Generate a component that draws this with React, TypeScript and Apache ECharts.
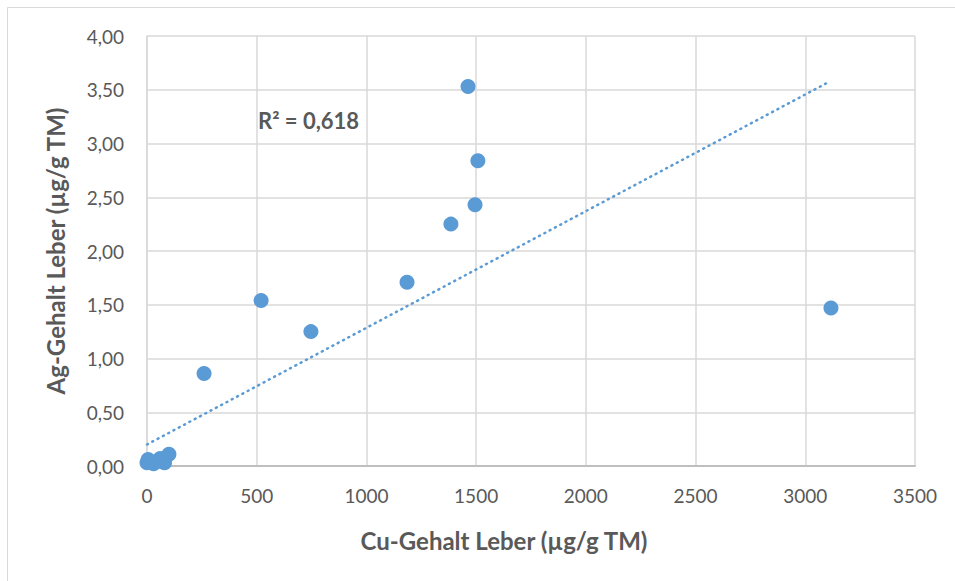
import React, { useEffect, useRef } from "react";
import * as echarts from "echarts";

const cuValues = [1463, 1508, 1495, 1385, 1185, 520, 747, 260, 3117, 0, 5, 30, 50, 70, 60, 100, 80];
const agValues = [3.53, 2.84, 2.43, 2.25, 1.71, 1.54, 1.25, 0.86, 1.47, 0.03, 0.06, 0.02, 0.05, 0.04, 0.07, 0.11, 0.03];
const trendX = [0, 3105];
const trendY = [0.2, 3.57];
const xTicks = [0, 500, 1000, 1500, 2000, 2500, 3000, 3500];
const yTicks = [0, 0.5, 1, 1.5, 2, 2.5, 3, 3.5, 4];
const r2Label = "R² = 0,618";
const xName = "Cu-Gehalt Leber (µg/g TM)";
const yName = "Ag-Gehalt Leber (µg/g TM)";

const FONT = "Lato, 'Open Sans', sans-serif";
const TEXT = "#595959";
const BLUE = "#5B9BD5";

export default function App() {
  const ref = useRef<HTMLDivElement>(null);
  useEffect(() => {
    if (!ref.current) return;
    const chart = echarts.init(ref.current, undefined, { renderer: "svg" });
    const points = cuValues.map((x, i) => [x, agValues[i]]);
    const trend = trendX.map((x, i) => [x, trendY[i]]);
    chart.setOption({
      animation: false,
      textStyle: { fontFamily: FONT },
      grid: { left: 147, right: 40, top: 36, bottom: 115 },
      graphic: [
        {
          type: "rect",
          shape: { x: 7.5, y: 7.5, width: 1000, height: 700 },
          style: { fill: "none", stroke: "#D9D9D9", lineWidth: 1 },
          silent: true,
        },
        {
          type: "text",
          left: 258,
          top: 109,
          style: { text: r2Label, fill: TEXT, font: `bold 22px ${FONT}` },
        },
      ],
      xAxis: {
        type: "value",
        min: xTicks[0],
        max: xTicks[xTicks.length - 1],
        interval: 500,
        name: xName,
        nameLocation: "middle",
        nameGap: 62,
        nameTextStyle: {
          color: TEXT,
          fontSize: 24,
          fontWeight: "bold",
          fontFamily: FONT,
          padding: [0, 54, 0, 0],
        },
        axisLine: { show: true, lineStyle: { color: "#BFBFBF", width: 2 } },
        axisTick: { show: false },
        axisLabel: {
          color: TEXT,
          fontSize: 19,
          margin: 20,
          fontFamily: FONT,
          formatter: (v: number) => String(v),
        },
        splitLine: { show: true, lineStyle: { color: "#D9D9D9", width: 1.5 } },
      },
      yAxis: {
        type: "value",
        min: yTicks[0],
        max: yTicks[yTicks.length - 1],
        interval: 0.5,
        name: yName,
        nameLocation: "middle",
        nameGap: 80,
        nameTextStyle: { color: TEXT, fontSize: 24, fontWeight: "bold", fontFamily: FONT },
        axisLine: { show: true, lineStyle: { color: "#D9D9D9", width: 1.5 } },
        axisTick: { show: false },
        axisLabel: {
          color: TEXT,
          fontSize: 19,
          margin: 23,
          fontFamily: FONT,
          formatter: (v: number) => v.toFixed(2).replace(".", ","),
        },
        splitLine: { show: true, lineStyle: { color: "#D9D9D9", width: 1.5 } },
      },
      series: [
        {
          type: "line",
          data: trend,
          symbol: "none",
          lineStyle: { color: BLUE, width: 2.5, type: [1, 5], cap: "round" },
          z: 1,
        },
        {
          type: "scatter",
          data: points,
          symbol: "circle",
          symbolSize: 15,
          itemStyle: { color: BLUE, opacity: 1 },
          z: 3,
        },
      ],
    });
    return () => chart.dispose();
  }, []);
  return (
    <div
      ref={ref}
      style={{ position: "fixed", left: 0, top: 0, width: 955, height: 581, background: "#fff" }}
    />
  );
}
